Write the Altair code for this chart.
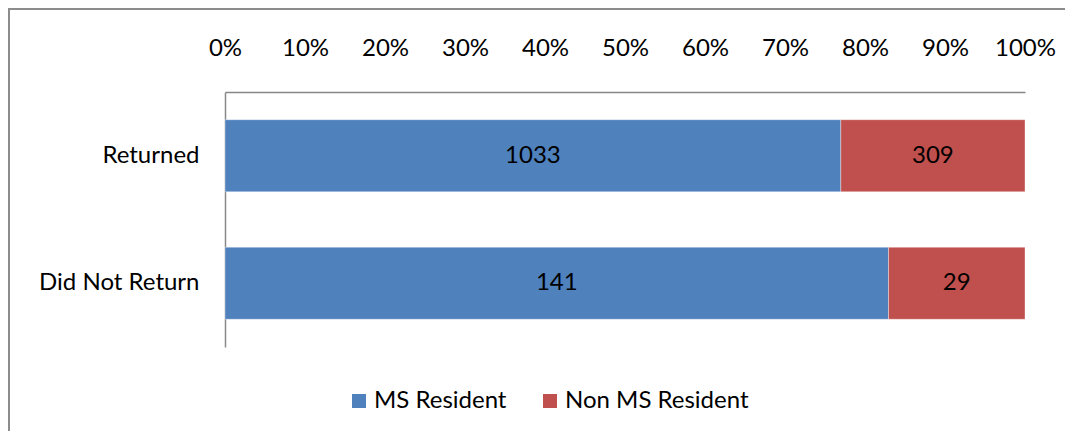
import altair as alt
import pandas as pd

categories = ["Returned", "Did Not Return"]
series = ["MS Resident", "Non MS Resident"]
ms_resident = [1033, 141]
non_ms_resident = [309, 29]
colors = ["#4F81BD", "#C0504D"]
tick_values = [0, 0.1, 0.2, 0.3, 0.4, 0.5, 0.6, 0.7, 0.8, 0.9, 1.0]

FONT = "Lato"
FS = 24

rows = []
for i, c in enumerate(categories):
    rows.append({"cat": c, "series": series[0], "value": ms_resident[i], "ord": 0})
    rows.append({"cat": c, "series": series[1], "value": non_ms_resident[i], "ord": 1})
df = pd.DataFrame(rows)

base = alt.Chart(df).transform_stack(
    stack="value", groupby=["cat"], as_=["x0", "x1"], offset="normalize",
    sort=[alt.SortField("ord")]
).transform_calculate(mid="(datum.x0 + datum.x1) / 2")

yenc = alt.Y(
    "cat:N", sort=categories, title=None,
    scale=alt.Scale(paddingInner=0.435, paddingOuter=0.2175),
    axis=alt.Axis(labelFontSize=FS, labelFont=FONT, labelColor="#000", labelPadding=26,
                  ticks=False, domainColor="#888", domainWidth=1.5, labelLimit=300),
)

bars = base.mark_bar(stroke="#ffffff", strokeWidth=0.6, strokeOpacity=0.6).encode(
    y=yenc,
    x=alt.X("x0:Q", scale=alt.Scale(domain=[0, 1], nice=False), title=None,
            axis=alt.Axis(orient="top", format=".0%", values=tick_values, grid=False,
                          ticks=False, labelFontSize=FS, labelFont=FONT, labelColor="#000",
                          labelPadding=32, domainColor="#888", domainWidth=1.5,
                          labelFlush=False)),
    x2="x1:Q",
    color=alt.Color("series:N", scale=alt.Scale(domain=series, range=colors), title=None,
                    legend=alt.Legend(orient="none", legendX=122, legendY=297,
                                      direction="horizontal", symbolType="square",
                                      symbolSize=196, symbolStrokeWidth=0,
                                      labelFontSize=FS, labelFont=FONT, labelColor="#000",
                                      labelLimit=400, columnPadding=31, labelOffset=3)),
    order=alt.Order("ord:Q"),
)

texts = base.mark_text(fontSize=FS, font=FONT, color="#000").encode(
    y=alt.Y("cat:N", sort=categories),
    x=alt.X("mid:Q"),
    text=alt.Text("value:Q"),
)

frame = alt.Chart(pd.DataFrame({"a": [0]})).mark_rect(
    fill="transparent", stroke="#8c8c8c", strokeWidth=2
).encode(
    x=alt.value(-216), x2=alt.value(870), y=alt.value(-83), y2=alt.value(370)
)

chart = alt.layer(frame, bars, texts).properties(
    width=800, height=255,
    padding={"left": 217, "top": 84, "right": 40, "bottom": 84},
    autosize=alt.AutoSizeParams(type="none"),
).configure_view(strokeWidth=0)

chart.save("out.html", embed_options={"renderer": "svg", "actions": False})
